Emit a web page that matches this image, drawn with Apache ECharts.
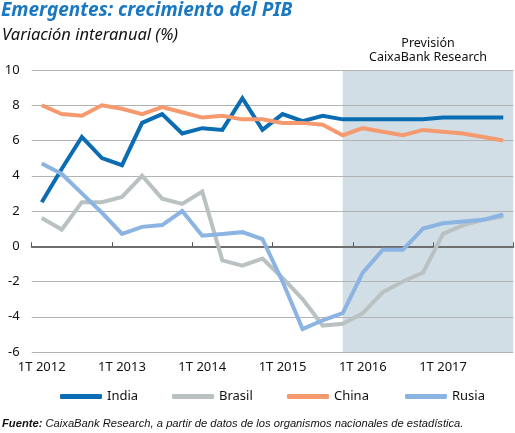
<!DOCTYPE html>
<html>
<head>
<meta charset="utf-8">
<script src="https://cdn.jsdelivr.net/npm/echarts@6/dist/echarts.min.js"></script>
<style>
html,body{margin:0;padding:0;background:#fff;}
#chart{width:515px;height:433px;}
</style>
</head>
<body>
<div id="chart"></div>
<script>
// ---- data ----
const categories = [
  '1T 2012','2T 2012','3T 2012','4T 2012',
  '1T 2013','2T 2013','3T 2013','4T 2013',
  '1T 2014','2T 2014','3T 2014','4T 2014',
  '1T 2015','2T 2015','3T 2015','4T 2015',
  '1T 2016','2T 2016','3T 2016','4T 2016',
  '1T 2017','2T 2017','3T 2017','4T 2017'
];
const india  = [2.5, 4.4, 6.2, 5.0, 4.6, 7.0, 7.5, 6.4, 6.7, 6.6, 8.4, 6.6, 7.5, 7.1, 7.4, 7.2, 7.2, 7.2, 7.2, 7.2, 7.3, 7.3, 7.3, 7.3];
const brasil = [1.6, 0.95, 2.5, 2.5, 2.8, 4.0, 2.7, 2.4, 3.1, -0.8, -1.1, -0.7, -1.8, -3.0, -4.5, -4.4, -3.8, -2.6, -2.0, -1.5, 0.7, 1.2, 1.5, 1.7];
const china  = [8.0, 7.5, 7.4, 8.0, 7.8, 7.5, 7.9, 7.6, 7.3, 7.4, 7.2, 7.2, 7.0, 7.0, 6.9, 6.3, 6.7, 6.5, 6.3, 6.6, 6.5, 6.4, 6.2, 6.0];
const rusia  = [4.7, 4.1, 3.0, 1.9, 0.7, 1.1, 1.2, 2.0, 0.6, 0.7, 0.8, 0.4, -2.0, -4.7, -4.2, -3.8, -1.5, -0.2, -0.2, 1.0, 1.3, 1.4, 1.5, 1.8];
const seriesNames = ['India', 'Brasil', 'China', 'Rusia'];
const yTicks = [-6, -4, -2, 0, 2, 4, 6, 8, 10];
const forecastStartIndex = 15; // 4T 2015: forecast shading starts at this quarter
const forecastLabel = 'Previsión\nCaixaBank Research';
const titleText = 'Emergentes: crecimiento del PIB';
const subtitleText = 'Variación interanual (%)';
const sourceBold = 'Fuente:';
const sourceText = ' CaixaBank Research, a partir de datos de los organismos nacionales de estadística.';

const colors = { India: '#0a6cb3', Brasil: '#b9c1c3', China: '#f49a6e', Rusia: '#8cb4e2' };
const FONT = '"Noto Sans", sans-serif';

const chart = echarts.init(document.getElementById('chart'), null, { renderer: 'canvas' });

function lineSeries(name, data) {
  return {
    name: name, type: 'line', data: data, xAxisIndex: 0, yAxisIndex: 0,
    symbol: 'none', smooth: false, z: 3,
    lineStyle: { width: 4, color: colors[name], cap: 'butt', join: 'miter' },
    itemStyle: { color: colors[name] }
  };
}

function legendAt(name, left) {
  return {
    data: [name], left: left, top: 390, padding: 0,
    itemWidth: 42, itemHeight: 5, icon: 'roundRect',
    textStyle: { fontFamily: FONT, fontSize: 13, color: '#111' }
  };
}

const option = {
  animation: false,
  color: seriesNames.map(n => colors[n]),
  title: [
    { text: titleText, left: 1, top: 1, padding: 0,
      textStyle: { fontFamily: '"Liberation Sans Narrow", "Noto Sans", sans-serif', fontStyle: 'italic', fontWeight: 'bold', fontSize: 19, color: '#1a78c2' } },
    { text: subtitleText, left: 2, top: 27, padding: 0,
      textStyle: { fontFamily: FONT, fontStyle: 'italic', fontWeight: 'normal', fontSize: 16.5, color: '#111' } },
    { text: '{b|' + sourceBold + '}{n|' + sourceText + '}', left: 2, top: 418, padding: 0,
      textStyle: { rich: {
        b: { fontFamily: '"Liberation Sans Narrow", sans-serif', fontStyle: 'italic', fontWeight: 'bold', fontSize: 11.2, color: '#111' },
        n: { fontFamily: '"Liberation Sans Narrow", sans-serif', fontStyle: 'italic', fontWeight: 'normal', fontSize: 11.2, color: '#111' }
      } } }
  ],
  legend: [
    legendAt('India', 60),
    legendAt('Brasil', 172),
    legendAt('China', 287),
    legendAt('Rusia', 405)
  ],
  grid: { left: 31.7, right: 1.7, top: 70, bottom: 81, containLabel: false },
  xAxis: [
    { type: 'category', data: categories, boundaryGap: true, position: 'bottom',
      axisLine: { show: false, onZero: false }, axisTick: { show: false },
      axisLabel: { interval: 3, margin: 9, fontFamily: FONT, fontSize: 13, color: '#111' },
      splitLine: { show: false } },
    { type: 'category', data: categories, boundaryGap: true, position: 'bottom', z: 2.5,
      axisLine: { show: true, onZero: true, lineStyle: { color: '#6d6d6d', width: 2 } },
      axisTick: { show: true, inside: true, interval: 3, length: 4, lineStyle: { color: '#555', width: 1 } },
      axisLabel: { show: false }, splitLine: { show: false } },
    { type: 'value', min: 0, max: categories.length, show: false }
  ],
  yAxis: [
    { type: 'value', min: yTicks[0], max: yTicks[yTicks.length - 1], interval: 2, z: 2,
      axisLine: { show: false }, axisTick: { show: false },
      axisLabel: { margin: 12, fontFamily: FONT, fontSize: 13, color: '#111' },
      splitLine: { show: true, lineStyle: { color: '#b3b3b3', width: 1 } } }
  ],
  series: [
    {
      name: 'forecast', type: 'line', xAxisIndex: 2, yAxisIndex: 0, data: [], z: 1,
      markArea: {
        silent: true,
        itemStyle: { color: '#d1dee5' },
        label: { show: true, position: 'top', distance: 6, formatter: forecastLabel,
          fontFamily: FONT, fontSize: 12.5, lineHeight: 14, color: '#111', align: 'center' },
        data: [[
          { xAxis: forecastStartIndex + 0.5, yAxis: yTicks[yTicks.length - 1] },
          { xAxis: categories.length, yAxis: yTicks[0] }
        ]]
      }
    },
    lineSeries('India', india),
    lineSeries('Brasil', brasil),
    lineSeries('China', china),
    lineSeries('Rusia', rusia)
  ]
};
chart.setOption(option);
</script>
</body>
</html>
